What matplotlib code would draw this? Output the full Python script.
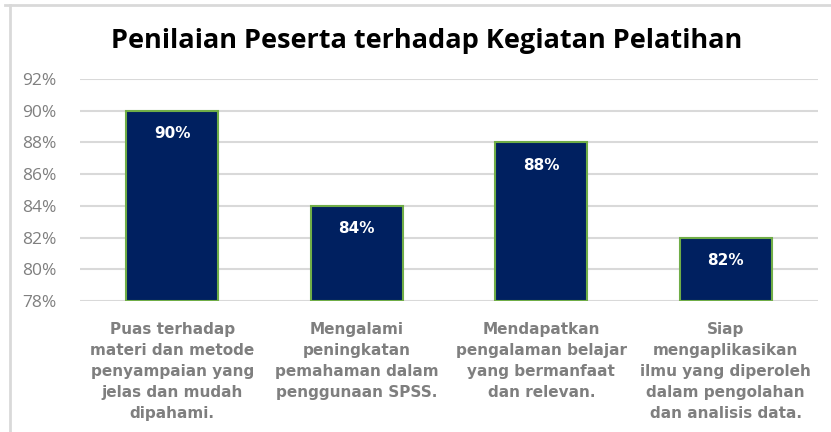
import matplotlib
matplotlib.use("Agg")
import matplotlib.pyplot as plt
from matplotlib.lines import Line2D
from matplotlib.ticker import FuncFormatter

categories = [
    "Puas terhadap\nmateri dan metode\npenyampaian yang\njelas dan mudah\ndipahami.",
    "Mengalami\npeningkatan\npemahaman dalam\npenggunaan SPSS.",
    "Mendapatkan\npengalaman belajar\nyang bermanfaat\ndan relevan.",
    "Siap\nmengaplikasikan\nilmu yang diperoleh\ndalam pengolahan\ndan analisis data.",
]
values = [90, 84, 88, 82]
yticks = [78, 80, 82, 84, 86, 88, 90, 92]
title = "Penilaian Peserta terhadap Kegiatan Pelatihan"

W, H = 831, 432
fig = plt.figure(figsize=(W / 100, H / 100), dpi=100)
fig.patch.set_facecolor("white")

# chart border (top and left visible)
fig.add_artist(Line2D([5 / W, 830 / W], [1 - 5 / H, 1 - 5 / H], color="#D9D9D9", lw=2, transform=fig.transFigure))
fig.add_artist(Line2D([10 / W, 10 / W], [0, 1 - 5 / H], color="#D9D9D9", lw=2, transform=fig.transFigure))

ax = fig.add_axes([80 / W, 1 - 301 / H, (818 - 80) / W, (301 - 79) / H])
x = list(range(len(categories)))
bars = ax.bar(x, [v - 78 for v in values], bottom=78, width=0.5, color="#002060",
              edgecolor="#70AD47", linewidth=1.5, zorder=3)
ax.set_ylim(78, 92)
ax.set_xlim(-0.5, len(categories) - 0.5)
ax.set_yticks(yticks)
ax.yaxis.set_major_formatter(FuncFormatter(lambda v, p: f"{v:.0f}%"))
ax.grid(axis="y", color="#D9D9D9", lw=1.5, zorder=0)
ax.set_axisbelow(True)
for s in ax.spines.values():
    s.set_visible(False)
ax.tick_params(axis="y", length=0, pad=17, labelsize=12.5, labelcolor="#7F7F7F")
for lab in ax.get_yticklabels():
    lab.set_family("Open Sans")
ax.set_xticks(x)
ax.set_xticklabels(categories, fontsize=11, color="#7F7F7F", fontweight="bold",
                   family="DejaVu Sans", linespacing=1.5)
ax.tick_params(axis="x", length=0, pad=15)

for xi, v in zip(x, values):
    ax.annotate(f"{v}%", (xi, v), xytext=(0, -23), textcoords="offset pixels",
                ha="center", va="center", color="white", fontweight="bold", fontsize=11,
                family="DejaVu Sans", zorder=4)

fig.text(427 / W, 1 - 41 / H, title, ha="center", va="center", fontsize=19.5,
         fontweight="bold", color="black", family="Open Sans")

fig.savefig("out.png", dpi=100)
